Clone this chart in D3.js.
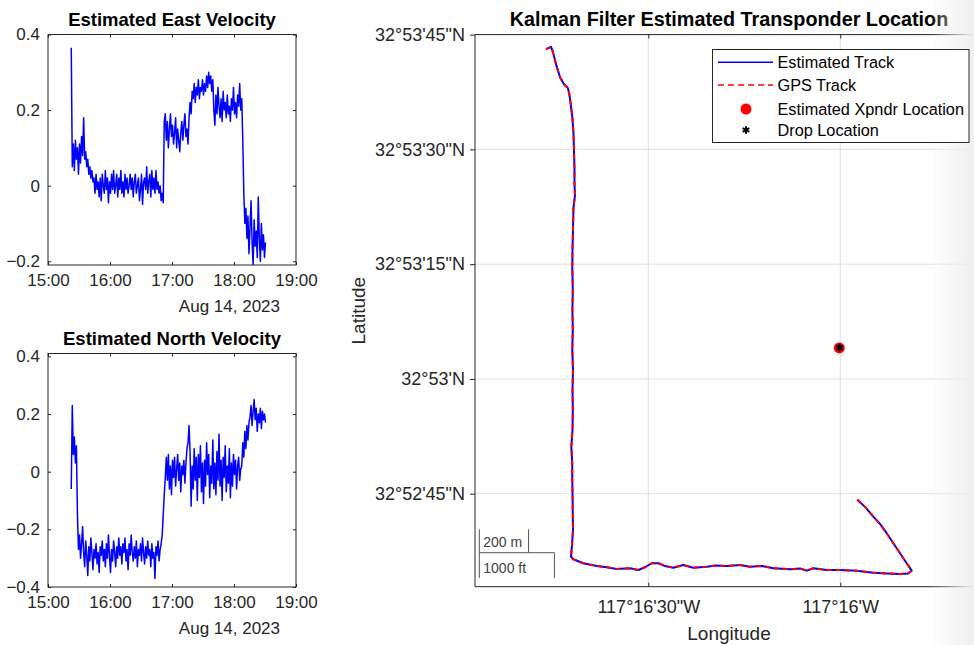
<!DOCTYPE html>
<html>
<head>
<meta charset="utf-8">
<script src="https://cdn.jsdelivr.net/npm/d3@7"></script>
<style>
  body { margin: 0; background: #fff; }
  svg { display: block; font-family: "Liberation Sans", Arial, Helvetica, sans-serif; }
</style>
</head>
<body>
<svg id="chart" width="974" height="645"></svg>
<script>
// ---- data ----
const startTime = new Date(2023, 7, 14, 15, 22, 30);
const stepMinutes = 1;

const eastVel = [
  0.365,
  0.05, 0.11, 0.04, 0.12, 0.07, 0.10, 0.03, 0.11, 0.06, 0.13, 0.08, 0.18,
  0.07, 0.09, 0.05, 0.07, 0.03, 0.05, 0.02, 0.04, 0.01,
  0.02, -0.02, 0.03, -0.01, 0.01, -0.03, 0.02, -0.04, 0.03, 0.00, -0.02,
  0.04, -0.01, 0.02, -0.045, 0.01, -0.02, 0.03, -0.01, 0.04, -0.02, 0.00,
  0.03, -0.03, 0.02, -0.01, 0.04, -0.02, 0.01, -0.03, 0.03, -0.01, 0.02,
  -0.02, 0.00, 0.03, -0.01, 0.02, -0.03, 0.01, 0.03, -0.02, 0.00, 0.02,
  -0.04, -0.01, 0.03, -0.05, 0.01, 0.02, -0.01, 0.05, -0.02, 0.01, 0.03,
  -0.03, 0.04, -0.01, 0.02, -0.02, 0.04, -0.01, 0.01, -0.02, 0.00, -0.04,
  -0.02, -0.045, 0.17,
  0.19, 0.12, 0.17, 0.10, 0.15, 0.19, 0.13, 0.16, 0.11, 0.14, 0.18, 0.10,
  0.15, 0.12, 0.09, 0.14, 0.17, 0.12, 0.16, 0.19, 0.13, 0.15, 0.11,
  0.18, 0.22, 0.19, 0.25,
  0.23, 0.27, 0.22, 0.26, 0.24, 0.28, 0.23, 0.26, 0.25, 0.28,
  0.24, 0.27, 0.25, 0.29, 0.26, 0.30, 0.27, 0.29, 0.25, 0.28,
  0.20, 0.16, 0.24, 0.19, 0.26, 0.21, 0.18, 0.23, 0.17, 0.25, 0.20, 0.22, 0.18, 0.24,
  0.19, 0.21, 0.17, 0.23, 0.20, 0.26, 0.19, 0.22, 0.18, 0.24, 0.21, 0.27, 0.20, 0.23,
  0.12, -0.02, -0.10, -0.06,
  -0.14, -0.08, -0.18, -0.11, -0.04, -0.15, -0.21, -0.09, -0.16, -0.12,
  -0.19, -0.03, -0.14, -0.20, -0.10, -0.17, -0.13, -0.19, -0.15
];

const northVel = [
  -0.06, 0.23, 0.06, 0.12, 0.03, 0.09, -0.15, -0.27,
  -0.22, -0.30, -0.25, -0.19, -0.28, -0.33, -0.24, -0.29, -0.36, -0.26,
  -0.31, -0.23, -0.28, -0.34, -0.27, -0.30, -0.25, -0.32, -0.28, -0.35,
  -0.26, -0.29, -0.24, -0.31, -0.27, -0.33, -0.25, -0.30, -0.22, -0.29,
  -0.35, -0.27, -0.31, -0.24, -0.28, -0.33, -0.26, -0.30, -0.23, -0.29,
  -0.26, -0.32, -0.25, -0.28, -0.23, -0.31, -0.27, -0.34, -0.25, -0.29,
  -0.22, -0.28, -0.31, -0.26, -0.30, -0.24, -0.33, -0.27, -0.29, -0.25,
  -0.31, -0.23, -0.28, -0.32, -0.26, -0.30, -0.24, -0.29, -0.27, -0.33,
  -0.25, -0.30, -0.28, -0.37, -0.26, -0.29, -0.24, -0.31, -0.27, -0.25,
  -0.22, -0.15, -0.08, -0.02, 0.05,
  -0.03, 0.06, -0.06, 0.02, -0.08, 0.04, -0.02, 0.05, -0.05, 0.01,
  0.06, -0.03, 0.03, -0.07, 0.02, -0.01, 0.04, -0.04, 0.03, 0.08, 0.10,
  0.16,
  0.07, -0.12, 0.02, -0.06, 0.08, -0.03, 0.05, -0.10, 0.06, -0.02,
  0.09, -0.07, 0.03, -0.11, 0.04, -0.05, 0.10, -0.01, 0.06, -0.09,
  0.02, -0.04, 0.11, -0.06, 0.03, -0.08, 0.07, -0.03, 0.13, -0.05,
  0.04, -0.10, 0.05, -0.02, 0.09, -0.07, 0.02, -0.04, 0.08, -0.09,
  0.03, -0.05, 0.06, -0.01, 0.04, -0.06, 0.02, 0.05, -0.03, 0.01,
  0.02, 0.10, 0.05, 0.14, 0.08, 0.16, 0.11, 0.17,
  0.19, 0.23, 0.16, 0.21, 0.25, 0.18, 0.22, 0.14, 0.20, 0.17,
  0.22, 0.15, 0.21, 0.18, 0.20, 0.17
];

const trackLon = [
  -117.279441, -117.279223, -117.279137, -117.279006, -117.278833, -117.278659,
  -117.278486, -117.278421, -117.278355, -117.278290, -117.278247, -117.278225,
  -117.278204, -117.278204, -117.278182, -117.278247, -117.278269, -117.278290,
  -117.278299, -117.278277, -117.278295, -117.278277, -117.278299, -117.278269,
  -117.278290, -117.278277, -117.278290, -117.278342, -117.278303, -117.278299,
  -117.278286, -117.278269, -117.278312, -117.278355, -117.278256, -117.277822,
  -117.277240, -117.276806, -117.276372, -117.275795, -117.275434, -117.275144,
  -117.274853, -117.274566, -117.274276, -117.273915, -117.273481, -117.273047,
  -117.272466, -117.272062, -117.271598, -117.271020, -117.270586, -117.270065,
  -117.269575, -117.268850, -117.268416, -117.268125, -117.267839, -117.267257,
  -117.266680, -117.265955, -117.265235, -117.264640, -117.264076, -117.263729,
  -117.263568, -117.263785, -117.264219, -117.264653, -117.264944, -117.265235,
  -117.265595, -117.265929
];
const trackLat = [
  32.895306, 32.895389, 32.895197, 32.894760, 32.894288, 32.894033,
  32.893888, 32.893633, 32.893233, 32.892761, 32.892252, 32.891597,
  32.890943, 32.890434, 32.889997, 32.889561, 32.888761, 32.888034,
  32.887416, 32.886580, 32.885853, 32.885125, 32.884398, 32.883671,
  32.882944, 32.882217, 32.881490, 32.880872, 32.880326, 32.879672,
  32.878945, 32.877854, 32.877308, 32.876883, 32.876789, 32.876643,
  32.876545, 32.876498, 32.876436, 32.876461, 32.876399, 32.876498,
  32.876643, 32.876643, 32.876545, 32.876483, 32.876581, 32.876483,
  32.876519, 32.876563, 32.876545, 32.876581, 32.876519, 32.876545,
  32.876461, 32.876425, 32.876454, 32.876374, 32.876461, 32.876399,
  32.876399, 32.876374, 32.876301, 32.876272, 32.876254, 32.876272,
  32.876374, 32.876643, 32.877188, 32.877734, 32.878072, 32.878337,
  32.878690, 32.878948
];

const xpndrLocation = [-117.266710, 32.884460];
const dropLocation = [-117.266700, 32.884470];

const eastTicks = [-0.2, 0, 0.2, 0.4];
const northTicks = [-0.4, -0.2, 0, 0.2, 0.4];
const latTicks = [32.879167, 32.883333, 32.8875, 32.891667, 32.895833];
const lonTicks = [-117.275, -117.266667];
const legendLabels = ["Estimated Track", "GPS Track", "Estimated Xpndr Location", "Drop Location"];

// ---- drawing ----
const svg = d3.select("#chart");
const axisColor = "#262626";

const defs = svg.append("defs");

function timeAt(i) {
  return new Date(startTime.getTime() + i * stepMinutes * 60000);
}

function velocityPanel(id, box, yDomain, yTicks, values, title) {
  const x = d3.scaleTime()
    .domain([new Date(2023, 7, 14, 15), new Date(2023, 7, 14, 19)])
    .range([box.left, box.right]);
  const y = d3.scaleLinear().domain(yDomain).range([box.bottom, box.top]);

  defs.append("clipPath").attr("id", id)
    .append("rect")
    .attr("x", box.left).attr("y", box.top)
    .attr("width", box.right - box.left).attr("height", box.bottom - box.top);

  const g = svg.append("g");

  const line = d3.line()
    .x((d, i) => x(timeAt(i)))
    .y(d => y(d));

  g.append("path")
    .datum(values)
    .attr("clip-path", `url(#${id})`)
    .attr("d", line)
    .attr("fill", "none")
    .attr("stroke", "#0000ff")
    .attr("stroke-width", 1.5)
    .attr("stroke-linejoin", "round");

  const hours = d3.timeHour.every(1);

  const bottomAxis = g.append("g")
    .attr("transform", `translate(0,${box.bottom})`)
    .call(d3.axisBottom(x).ticks(hours).tickFormat(d3.timeFormat("%H:%M"))
      .tickSizeInner(-3).tickSizeOuter(0).tickPadding(9));
  const topAxis = g.append("g")
    .attr("transform", `translate(0,${box.top})`)
    .call(d3.axisTop(x).ticks(hours).tickFormat("").tickSizeInner(-3).tickSizeOuter(0));
  const leftAxis = g.append("g")
    .attr("transform", `translate(${box.left},0)`)
    .call(d3.axisLeft(y).tickValues(yTicks).tickFormat(d3.format("~g"))
      .tickSizeInner(-3).tickSizeOuter(0).tickPadding(8));
  const rightAxis = g.append("g")
    .attr("transform", `translate(${box.right},0)`)
    .call(d3.axisRight(y).tickValues(yTicks).tickFormat("").tickSizeInner(-3).tickSizeOuter(0));

  [bottomAxis, topAxis, leftAxis, rightAxis].forEach(a => {
    a.select(".domain").remove();
    a.selectAll("line").attr("stroke", axisColor);
    a.selectAll("text").attr("fill", axisColor).style("font-size", "17px");
  });

  g.append("rect")
    .attr("x", box.left).attr("y", box.top)
    .attr("width", box.right - box.left).attr("height", box.bottom - box.top)
    .attr("fill", "none").attr("stroke", axisColor).attr("stroke-width", 1);

  g.append("text")
    .attr("x", 280).attr("y", box.bottom + 47)
    .attr("text-anchor", "end")
    .attr("fill", axisColor)
    .style("font-size", "17px")
    .text("Aug 14, 2023");

  g.append("text")
    .attr("x", (box.left + box.right) / 2).attr("y", box.top - 8.5)
    .attr("text-anchor", "middle")
    .style("font-size", "18.5px")
    .style("font-weight", "bold")
    .text(title);
}

velocityPanel("clipEast", { left: 48, right: 296, top: 34.5, bottom: 265 },
  [-0.21, 0.4], eastTicks, eastVel, "Estimated East Velocity");
velocityPanel("clipNorth", { left: 48, right: 296, top: 353.5, bottom: 587 },
  [-0.4, 0.41], northTicks, northVel, "Estimated North Velocity");

// ---- map panel ----
const map = { left: 475, right: 983, top: 34.6, bottom: 586.7 };
const lonScale = d3.scaleLinear().domain([-117.282522, -117.260473]).range([map.left, map.right]);
const latScale = d3.scaleLinear().domain([32.875792, 32.895833]).range([map.bottom, map.top]);

function dms(v, pos, neg) {
  let s = Math.round(Math.abs(v) * 3600);
  const d = Math.floor(s / 3600); s -= d * 3600;
  const m = Math.floor(s / 60); s -= m * 60;
  return `${d}°${m}'` + (s ? `${s}"` : "") + (v >= 0 ? pos : neg);
}

defs.append("clipPath").attr("id", "clipMap")
  .append("rect")
  .attr("x", map.left).attr("y", map.top)
  .attr("width", map.right - map.left).attr("height", map.bottom - map.top);

const mapG = svg.append("g");

// grid
mapG.selectAll(".vgrid")
  .data(lonTicks)
  .enter()
  .append("line")
  .attr("x1", d => lonScale(d)).attr("x2", d => lonScale(d))
  .attr("y1", map.top).attr("y2", map.bottom)
  .attr("stroke", "#dedede").attr("stroke-width", 1);
mapG.selectAll(".hgrid")
  .data(latTicks)
  .enter()
  .append("line")
  .attr("x1", map.left).attr("x2", map.right)
  .attr("y1", d => latScale(d)).attr("y2", d => latScale(d))
  .attr("stroke", "#dedede").attr("stroke-width", 1);

// tracks
const track = trackLon.map((lon, i) => [lon, trackLat[i]]);
const trackLine = d3.line().x(d => lonScale(d[0])).y(d => latScale(d[1]));

mapG.append("path")
  .datum(track)
  .attr("clip-path", "url(#clipMap)")
  .attr("d", trackLine)
  .attr("fill", "none")
  .attr("stroke", "#0000ff")
  .attr("stroke-width", 2)
  .attr("stroke-linejoin", "round");
mapG.append("path")
  .datum(track)
  .attr("clip-path", "url(#clipMap)")
  .attr("d", trackLine)
  .attr("fill", "none")
  .attr("stroke", "#ff0000")
  .attr("stroke-width", 2)
  .attr("stroke-dasharray", "5,4")
  .attr("stroke-linejoin", "round");

// transponder + drop
mapG.append("circle")
  .attr("cx", lonScale(xpndrLocation[0])).attr("cy", latScale(xpndrLocation[1]))
  .attr("r", 5.5).attr("fill", "#ff0000");
mapG.append("path")
  .attr("transform", `translate(${lonScale(dropLocation[0])},${latScale(dropLocation[1])})`)
  .attr("d", d3.symbol().type(d3.symbolAsterisk).size(40)())
  .attr("fill", "none").attr("stroke", "#000").attr("stroke-width", 2);

// map frame and ticks
mapG.append("line")
  .attr("x1", map.left).attr("x2", map.right).attr("y1", map.top).attr("y2", map.top)
  .attr("stroke", axisColor);
mapG.append("line")
  .attr("x1", map.left).attr("x2", map.right).attr("y1", map.bottom).attr("y2", map.bottom)
  .attr("stroke", axisColor);
mapG.append("line")
  .attr("x1", map.left).attr("x2", map.left).attr("y1", map.top).attr("y2", map.bottom)
  .attr("stroke", axisColor);

const latAxis = mapG.append("g")
  .attr("transform", `translate(${map.left},0)`)
  .call(d3.axisLeft(latScale).tickValues(latTicks).tickFormat(d => dms(d, "N", "S"))
    .tickSizeInner(5).tickSizeOuter(0).tickPadding(5));
const lonAxis = mapG.append("g")
  .attr("transform", `translate(0,${map.bottom})`)
  .call(d3.axisBottom(lonScale).tickValues(lonTicks).tickFormat(d => dms(d, "E", "W"))
    .tickSizeInner(-4).tickSizeOuter(0).tickPadding(14));
const lonTop = mapG.append("g")
  .attr("transform", `translate(0,${map.top})`)
  .call(d3.axisTop(lonScale).tickValues(lonTicks).tickFormat("").tickSizeInner(-4).tickSizeOuter(0));

[latAxis, lonAxis, lonTop].forEach(a => {
  a.select(".domain").remove();
  a.selectAll("line").attr("stroke", axisColor);
  a.selectAll("text").attr("fill", axisColor).style("font-size", "18px");
});

// scale bar
const metersPerDegLon = 111320 * Math.cos(32.8855 * Math.PI / 180);
const pxPerDeg = (map.right - map.left) / (lonScale.domain()[1] - lonScale.domain()[0]);
const sbX = 479.3;
const sbY = 552.7;
const len200m = 200 / metersPerDegLon * pxPerDeg;
const len1000ft = 304.8 / metersPerDegLon * pxPerDeg;
const sb = mapG.append("g").attr("stroke", "#555").attr("stroke-width", 1);
sb.append("line").attr("x1", sbX).attr("x2", sbX).attr("y1", 529.3).attr("y2", 578);
sb.append("line").attr("x1", sbX).attr("x2", sbX + len1000ft).attr("y1", sbY).attr("y2", sbY);
sb.append("line").attr("x1", sbX + len200m).attr("x2", sbX + len200m).attr("y1", 529.3).attr("y2", sbY);
sb.append("line").attr("x1", sbX + len1000ft).attr("x2", sbX + len1000ft).attr("y1", sbY).attr("y2", 578);
mapG.append("text").attr("x", sbX + 4).attr("y", 547)
  .attr("fill", "#404040").style("font-size", "14px").text("200 m");
mapG.append("text").attr("x", sbX + 4).attr("y", 573)
  .attr("fill", "#404040").style("font-size", "14px").text("1000 ft");

// labels and title
mapG.append("text")
  .attr("x", 729).attr("y", 640)
  .attr("text-anchor", "middle")
  .attr("fill", axisColor)
  .style("font-size", "19px")
  .text("Longitude");
mapG.append("text")
  .attr("transform", `translate(365,${(map.top + map.bottom) / 2}) rotate(-90)`)
  .attr("text-anchor", "middle")
  .attr("fill", axisColor)
  .style("font-size", "19px")
  .text("Latitude");
mapG.append("text")
  .attr("x", 729).attr("y", 26)
  .attr("text-anchor", "middle")
  .style("font-size", "19.8px")
  .style("font-weight", "bold")
  .text("Kalman Filter Estimated Transponder Location");

// edge shading at the right of the figure
const grad = defs.append("linearGradient").attr("id", "edgeFade");
grad.append("stop").attr("offset", "0%").attr("stop-color", "#efefef").attr("stop-opacity", 0);
grad.append("stop").attr("offset", "100%").attr("stop-color", "#efefef").attr("stop-opacity", 1);
svg.append("rect")
  .attr("x", 930).attr("y", 0).attr("width", 44).attr("height", 645)
  .attr("fill", "url(#edgeFade)");

// legend
const legend = svg.append("g");
legend.append("rect")
  .attr("x", 712.5).attr("y", 49.5).attr("width", 256.5).attr("height", 93)
  .attr("fill", "#fff").attr("stroke", axisColor).attr("stroke-width", 1);
const rowY = [62.3, 85, 109, 130];
legend.selectAll("text")
  .data(legendLabels)
  .enter()
  .append("text")
  .attr("x", 777.5)
  .attr("y", (d, i) => rowY[i] + 5.5)
  .attr("fill", "#000")
  .style("font-size", "16.3px")
  .text(d => d);
legend.append("line")
  .attr("x1", 718).attr("x2", 773).attr("y1", rowY[0]).attr("y2", rowY[0])
  .attr("stroke", "#0000ff").attr("stroke-width", 1.6);
legend.append("line")
  .attr("x1", 718).attr("x2", 773).attr("y1", rowY[1]).attr("y2", rowY[1])
  .attr("stroke", "#ff0000").attr("stroke-width", 1.6).attr("stroke-dasharray", "6,4");
legend.append("circle")
  .attr("cx", 746).attr("cy", rowY[2]).attr("r", 5.5).attr("fill", "#ff0000");
legend.append("path")
  .attr("transform", `translate(746,${rowY[3]})`)
  .attr("d", d3.symbol().type(d3.symbolAsterisk).size(40)())
  .attr("fill", "none").attr("stroke", "#000").attr("stroke-width", 2);
</script>
</body>
</html>
